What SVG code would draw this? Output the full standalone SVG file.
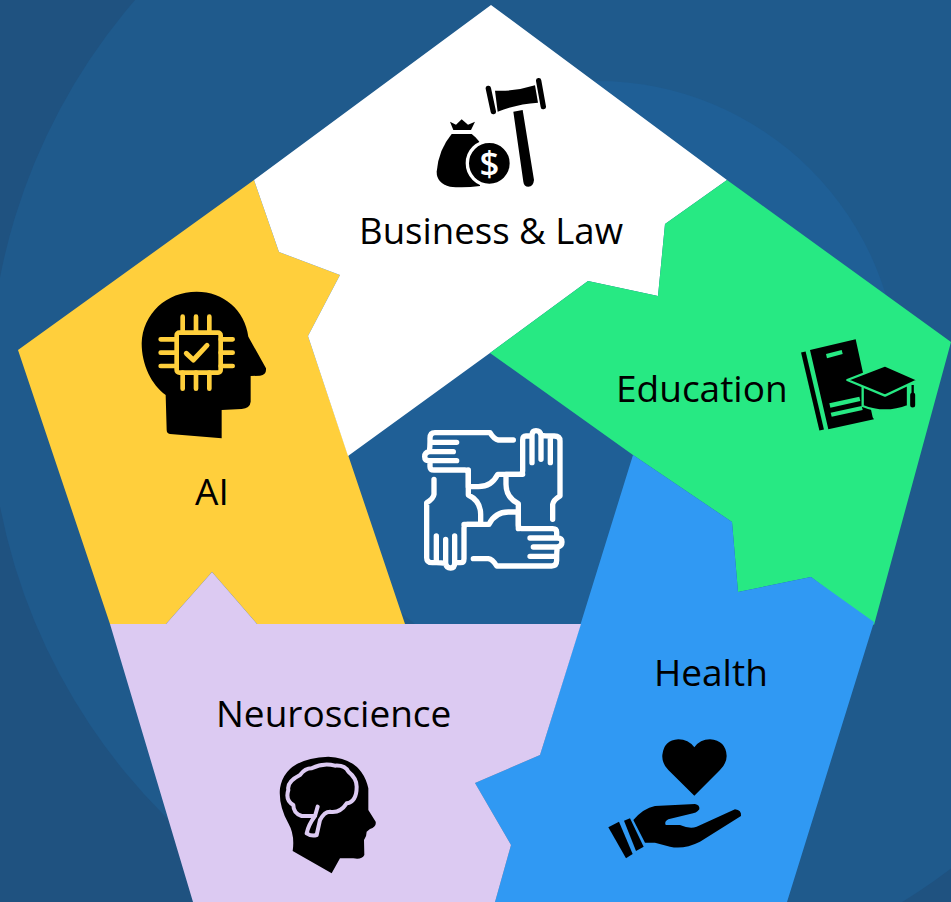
<svg xmlns="http://www.w3.org/2000/svg" xmlns:xlink="http://www.w3.org/1999/xlink" width="951" height="902" viewBox="0 0 951 902">
<style>
.lbl{font-family:"Open Sans","Noto Sans","Liberation Sans",sans-serif;font-size:37px;fill:#000}
.k{fill:#000}
.hs{fill:none;stroke:#fff;stroke-width:16;stroke-linecap:round;stroke-linejoin:round}
</style>
<defs>
<path id="hand" d="M340 90H295Q282 88 270 68H105Q90 68 90 85V97H170M90 97Q90 112 88 125H160M88 125Q74 127 74 140Q74 152 88 152H170M90 152V170Q90 180 102 180H195Q205 180 205 190V230H235Q275 230 293 193H368"/>
</defs>
<g id="background">
<rect width="951" height="902" fill="#1f5280"/>
<circle cx="588" cy="392" r="599" fill="#1f5a8c"/>
<circle cx="597" cy="383" r="302" fill="#1f5f96"/>
</g>
<g id="node-ai">
<polygon fill="#ffcf3c" points="254,180 279,252 340,275 308,336 405,624 257,624 212,572 166,624 110,624 18,350"/>
<g transform="translate(120 280) scale(.33333)">
<path class="k" d="M140 450L137 345C95 315 65 255 65 190C68 100 140 35 230 35C310 35 375 90 385 170L438 265Q440 285 420 287L392 288V365Q390 385 365 387L305 390V475L150 462Q140 460 140 450Z"/>
<g fill="none" stroke="#ffcf3c" stroke-width="14" stroke-linecap="round" stroke-linejoin="round">
<rect x="170" y="158" width="132" height="120" rx="8"/>
<path d="M188 110V158M228 110V158M268 110V158M188 278V326M228 278V326M268 278V326M122 178H170M122 218H170M122 258H170M302 178H338M302 218H338M302 258H338"/>
<path stroke-width="15" d="M199 220L220 240L261 196"/>
</g>
</g>
<text class="lbl" x="195" y="505">AI</text>
</g>
<g id="node-business-law">
<polygon fill="#fff" points="491,5 727,180 665,224 658,296 588,281 490,353 348,456 308,336 340,275 279,252 254,180"/>
<g transform="translate(400 60) scale(.33333)">
<path class="k" d="M285 92Q345 95 405 76L414 128Q350 132 293 155Z"/>
<path d="M265 85L280 155M416 62L430 140" stroke="#000" stroke-width="16" stroke-linecap="round" fill="none"/>
<path class="k" d="M340 155L368 150L402 360Q400 380 385 380Q372 380 370 365Z"/>
<path class="k" d="M150 185L168 194L185 178L204 194L225 185L213 210H160Z"/>
<path class="k" d="M155 222H215Q240 240 250 270L240 378Q190 385 150 380Q110 370 110 335Q115 270 155 222Z"/>
<circle cx="268" cy="310" r="66" fill="#000" stroke="#fff" stroke-width="10"/>
<text x="268" y="348" text-anchor="middle" font-family="Open Sans,Liberation Sans,sans-serif" font-size="104" font-weight="600" fill="#fff">$</text>
</g>
<text class="lbl" x="359" y="244" font-size="36.6" style="font-size:36.6px">Business &amp; Law</text>
</g>
<g id="node-education">
<polygon fill="#27e983" points="727,180 951,342 874,625 811,577 738,592 732,522 633,455 490,353 588,281 658,296 665,224"/>
<g transform="translate(790 330) scale(.33333)">
<path d="M40 66L95 300" stroke="#000" stroke-width="14" fill="none"/>
<path class="k" d="M60 60L197 28L248 262L252 268L115 298Z"/>
<g fill="#27e983">
<path d="M108 72L155 60L158 72L111 85Z"/>
<path d="M118 220L208 200L211 213L121 233Z"/>
<path d="M122 248L215 228L218 240L125 260Z"/>
</g>
<path class="k" d="M218 165V228Q285 255 354 228V165Z" stroke="#27e983" stroke-width="7"/>
<path class="k" d="M172 150L285 106L384 150L285 197Z" stroke="#27e983" stroke-width="7" stroke-linejoin="round"/>
<path d="M368 165V200" stroke="#000" stroke-width="7"/>
<path d="M368 195V225" stroke="#000" stroke-width="15" stroke-linecap="round"/>
</g>
<text class="lbl" x="616" y="402">Education</text>
</g>
<g id="node-health">
<polygon fill="#3099f3" points="633,455 732,522 738,592 811,577 874,622 787,902 495,902 511,845 475,783 540,755"/>
<g transform="translate(600 730) scale(.33333)">
<path class="k" d="M283 197L205 120Q185 100 187 75Q192 30 235 28Q265 28 283 52Q300 28 330 28Q378 32 380 78Q380 100 360 120Z"/>
<path class="k" d="M25 292L57 275L98 372L78 385Z"/>
<path class="k" d="M72 272L90 265L131 350L108 363Z"/>
<path class="k" d="M100 270Q130 235 165 228L285 222Q300 225 298 238Q290 250 270 252L205 268Q192 275 197 285L240 285Q270 298 290 290L405 238Q425 240 423 258L300 335Q250 360 210 350L165 338L135 338Z"/>
</g>
<text class="lbl" x="654" y="686">Health</text>
</g>
<g id="node-neuroscience">
<polygon fill="#dccaf2" points="110,624 166,624 212,572 257,624 581,624 540,755 475,783 511,845 495,902 193,902"/>
<g transform="translate(265 745) scale(.33333)">
<path class="k" d="M83 318Q90 270 70 235Q40 180 45 130Q60 40 190 35Q290 40 310 130L310 195L332 230Q335 245 315 252L305 260Q305 275 297 285L298 330Q290 345 265 340L225 340L200 385Z"/>
<path fill="none" stroke="#dccaf2" stroke-width="12" stroke-linejoin="round" stroke-linecap="round" d="M158 185L150 213H110Q85 205 85 180Q60 165 70 135Q65 110 105 90Q120 70 140 70Q175 52 210 62Q240 60 250 80Q275 100 275 125Q275 170 245 175Q225 205 195 200Q178 200 165 225L155 270Q140 275 125 265Q130 240 150 213"/>
</g>
<text class="lbl" x="216" y="727">Neuroscience</text>
</g>
<g id="node-center">
<g transform="translate(400 410) scale(.33333)">
<g class="hs">
<use xlink:href="#hand" href="#hand"/>
<use xlink:href="#hand" href="#hand" transform="rotate(90 280 268)"/>
<use xlink:href="#hand" href="#hand" transform="rotate(180 280 268)"/>
<use xlink:href="#hand" href="#hand" transform="rotate(270 280 268)"/>
</g>
</g>
</g>
</svg>
